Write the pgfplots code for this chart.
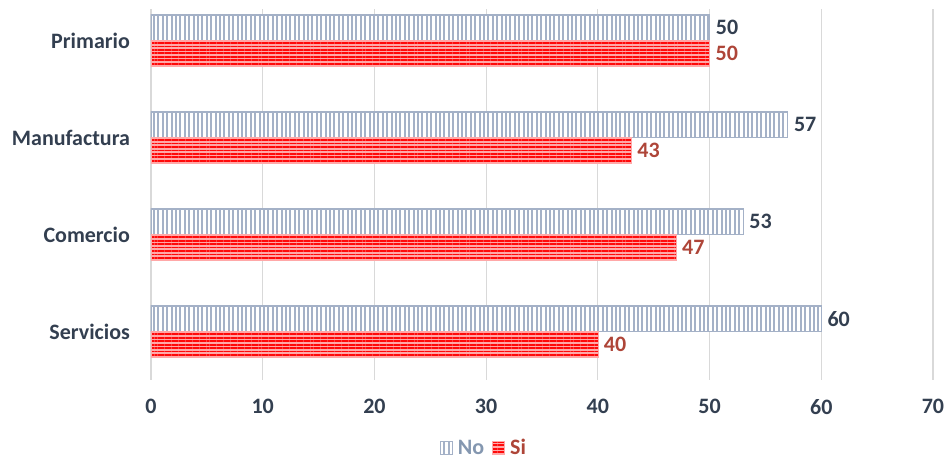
\documentclass[border=0pt]{standalone}
\usepackage{fontspec}
\setmainfont{Carlito}
\usepackage{pgfplots}
\pgfplotsset{compat=1.18}
\usetikzlibrary{patterns.meta}
\definecolor{txt}{HTML}{333F50}
\definecolor{nobar}{HTML}{A4B1C7}
\definecolor{sired}{HTML}{FF0A0A}
\definecolor{sipink}{HTML}{FFA8A8}
\definecolor{silab}{HTML}{AE4538}
\definecolor{nolegend}{HTML}{8497B0}
\begin{document}
\begin{tikzpicture}
\begin{axis}[
 scale only axis, width=586.5pt, height=278.25pt,
 xbar, xmin=0, xmax=70, ymin=-0.5, ymax=3.325,
 xtick={0,10,...,70}, ytick={0,1,2,3},
 yticklabels={Servicios,Comercio,Manufactura,Primario},
 axis line style={draw=none}, tick style={draw=none},
 xmajorgrids, major grid style={draw=black!15, line width=0.8pt},
 extra x ticks={0}, extra x tick labels={},
 extra x tick style={grid style={draw=black!28,line width=1pt}},
 ticklabel style={font=\fontsize{16.5}{19}\selectfont\bfseries, text=txt},
 /pgf/number format/assume math mode=true,
 xticklabel style={yshift=-11pt},
 yticklabel style={xshift=-8pt},
 bar width=0.263,
 nodes near coords,
 nodes near coords style={font=\fontsize{16.5}{19}\selectfont\bfseries, anchor=west, xshift=1pt},
 legend style={at={(0.426,-0.183)}, anchor=center, draw=none, legend columns=2,
   font=\fontsize{16.5}{19}\selectfont\bfseries,
   /tikz/every odd column/.append style={column sep=2pt},
   /tikz/every even column/.append style={column sep=4pt}},
 legend image code/.code={\draw[#1] (0pt,-5pt) rectangle (9pt,5pt);},
]
\addplot[bar shift=0.1315, draw=nobar, line width=0.8pt, fill=white,
  postaction={pattern={Lines[angle=90,distance=3.3pt,line width=1.6pt]}, pattern color=nobar},
  every node near coord/.append style={text=txt}]
  coordinates {(60,0) (53,1) (57,2) (50,3)};
\addlegendentry{\textcolor{nolegend}{No}}
\addplot[bar shift=-0.1315, draw=sipink, line width=0.5pt, fill=sipink,
  postaction={pattern={Lines[angle=0,distance=2.6pt,line width=1.4pt]}, pattern color=sired},
  every node near coord/.append style={text=silab}]
  coordinates {(40,0) (47,1) (43,2) (50,3)};
\addlegendentry{\textcolor{silab}{Si}}
\end{axis}
\pgfresetboundingbox
\path (-113.25pt,-59.25pt) rectangle (597pt,285pt);
\end{tikzpicture}
\end{document}
